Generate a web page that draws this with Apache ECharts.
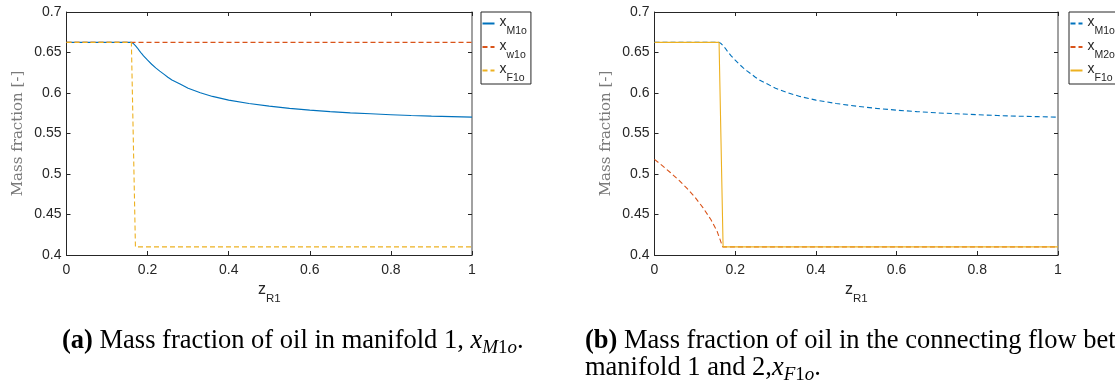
<!DOCTYPE html>
<html>
<head>
<meta charset="utf-8">
<script src="https://cdn.jsdelivr.net/npm/echarts@6/dist/echarts.min.js"></script>
<style>
  html, body { margin: 0; padding: 0; background: #fff; }
  #chart { width: 1115px; height: 388px; }
</style>
</head>
<body>
<div id="chart"></div>
<script>
// Positions along the reactor (z_R1) and mass fraction of oil in manifold 1
const zM1o = [0, 0.05, 0.1, 0.16, 0.165, 0.17, 0.175, 0.18, 0.185, 0.19, 0.2, 0.21, 0.22, 0.23, 0.24,
              0.25, 0.26, 0.28, 0.3, 0.33, 0.36, 0.4, 0.45, 0.5, 0.55, 0.6, 0.65, 0.7, 0.75, 0.8,
              0.85, 0.9, 0.95, 1];
const xM1o = [0.6625, 0.6625, 0.6625, 0.6625, 0.661, 0.6585, 0.6555, 0.652, 0.6488, 0.6458, 0.6405,
              0.6355, 0.631, 0.627, 0.6233, 0.6195, 0.616, 0.611, 0.6058, 0.6003, 0.5958, 0.5912,
              0.587, 0.5838, 0.581, 0.5788, 0.577, 0.5755, 0.5743, 0.5732, 0.5722, 0.5714, 0.5708, 0.5702];

// Water-side outlet of manifold 1
const zW1o = [0, 1];
const xW1o = [0.6625, 0.6625];

// Connecting flow between manifold 1 and 2
const zF1o = [0, 0.16, 0.17, 1];
const xF1o = [0.6625, 0.6625, 0.41, 0.41];

// Manifold 2
const zM2o = [0, 0.02, 0.04, 0.06, 0.08, 0.1, 0.12, 0.14, 0.155, 0.169, 1];
const xM2o = [0.518, 0.51, 0.5015, 0.4925, 0.4825, 0.4715, 0.4585, 0.4435, 0.4295, 0.41, 0.41];

// Axis ticks
const zTicks = [0, 0.2, 0.4, 0.6, 0.8, 1];
const fracTicks = [0.4, 0.45, 0.5, 0.55, 0.6, 0.65, 0.7];

const BLUE = '#0072BD', RED = '#D95319', YELLOW = '#EDB120';
const INK = '#262626';
const SANS = '"Liberation Sans", Arial, sans-serif';
const SERIF = '"Liberation Serif", "Times New Roman", serif';

const pairs = (zs, vs) => zs.map((z, i) => [z, vs[i]]);

const zStep = zTicks[1] - zTicks[0];
const fStep = 0.05;

const GRIDS = [
  { left: 66.5, top: 12, width: 405.5, height: 243 },
  { left: 654.5, top: 12, width: 403.5, height: 243 }
];

// legend label: "x" with a lowered subscript; both tokens hang from the line top
const subRich = {
  m: { fontFamily: SANS, fontSize: 14, color: INK, lineHeight: 20, height: 14, padding: [2, 0, 0, 0], verticalAlign: 'top' },
  s: { fontFamily: SANS, fontSize: 10.5, color: INK, lineHeight: 20, height: 4, padding: [16, 0, 0, 0], verticalAlign: 'top' }
};

function axesFor(g) {
  const x = [
    {
      type: 'value', gridIndex: g, position: 'bottom',
      min: zTicks[0], max: zTicks[zTicks.length - 1], interval: zStep,
      axisLine: { show: true, onZero: false, lineStyle: { color: INK, width: 1 } },
      axisTick: { show: true, inside: true, length: 4, lineStyle: { color: INK } },
      axisLabel: { margin: 8, fontFamily: SANS, fontSize: 14, color: INK },
      splitLine: { show: false },
      name: '{m|z}{s|R1}', nameLocation: 'middle', nameGap: 26,
      nameTextStyle: {
        rich: {
          m: { fontFamily: SANS, fontSize: 16, color: INK, lineHeight: 16, padding: [0, 0, 7, 0], verticalAlign: 'bottom' },
          s: { fontFamily: SANS, fontSize: 11.5, color: INK, lineHeight: 12, verticalAlign: 'bottom' }
        }
      }
    },
    {
      type: 'value', gridIndex: g, position: 'top',
      min: zTicks[0], max: zTicks[zTicks.length - 1], interval: zStep,
      axisLine: { show: true, onZero: false, lineStyle: { color: INK, width: 1 } },
      axisTick: { show: true, inside: true, length: 4, lineStyle: { color: INK } },
      axisLabel: { show: false },
      splitLine: { show: false }
    }
  ];
  const y = [
    {
      type: 'value', gridIndex: g, position: 'left',
      min: fracTicks[0], max: fracTicks[fracTicks.length - 1], interval: fStep,
      axisLine: { show: true, onZero: false, lineStyle: { color: INK, width: 1 } },
      axisTick: { show: true, inside: true, length: 4, lineStyle: { color: INK } },
      axisLabel: { margin: 5, fontFamily: SANS, fontSize: 14, color: INK },
      splitLine: { show: false },
      name: 'Mass fraction [-]', nameLocation: 'middle', nameGap: 41, nameRotate: 90,
      nameTextStyle: { fontFamily: '"DejaVu Serif", serif', fontSize: 15, color: '#7a7a7a' }
    },
    {
      type: 'value', gridIndex: g, position: 'right',
      min: fracTicks[0], max: fracTicks[fracTicks.length - 1], interval: fStep,
      axisLine: { show: true, onZero: false, lineStyle: { color: '#8a8a8a', width: 1.6 } },
      axisTick: { show: true, inside: true, length: 4, lineStyle: { color: INK } },
      axisLabel: { show: false },
      splitLine: { show: false }
    }
  ];
  return { x, y };
}

const a0 = axesFor(0), a1 = axesFor(1);

function line(name, data, color, dashed, g) {
  return {
    name, type: 'line', data,
    xAxisIndex: g * 2, yAxisIndex: g * 2,
    symbol: 'none', showSymbol: false, smooth: false,
    lineStyle: { color, width: 1.1, type: dashed ? [5, 3] : 'solid' },
    itemStyle: { color },
    emphasis: { disabled: true },
    animation: false
  };
}

const legendLabels = {
  aM1o: 'M1o', aW1o: 'w1o', aF1o: 'F1o',
  bM1o: 'M1o', bM2o: 'M2o', bF1o: 'F1o'
};

function legendAt(left, names, padRight) {
  return {
    data: names, orient: 'vertical', left, top: 12,
    padding: [1.5, padRight, 0, 0.5], itemWidth: 12, itemHeight: 10, itemGap: 0,
    borderColor: INK, borderWidth: 1, backgroundColor: '#fff',
    selectedMode: false,
    itemStyle: { opacity: 0 },
    formatter: n => '{m|x}{s|' + legendLabels[n] + '}',
    textStyle: { rich: subRich }
  };
}

const T = 26.5, TS = 19;
const capRich = {
  b: { fontFamily: SERIF, fontSize: T, fontWeight: 'bold', color: '#000', lineHeight: T, padding: [0, 0, 3, 0], verticalAlign: 'bottom' },
  t: { fontFamily: SERIF, fontSize: T, fontWeight: 'normal', color: '#000', lineHeight: T, padding: [0, 0, 3, 0], verticalAlign: 'bottom' },
  i: { fontFamily: SERIF, fontSize: T, fontWeight: 'normal', fontStyle: 'italic', color: '#000', lineHeight: T, padding: [0, 0, 3, 0], verticalAlign: 'bottom' },
  si: { fontFamily: SERIF, fontSize: TS, fontWeight: 'normal', fontStyle: 'italic', color: '#000', lineHeight: TS, verticalAlign: 'bottom' },
  su: { fontFamily: SERIF, fontSize: TS, fontWeight: 'normal', color: '#000', lineHeight: TS, verticalAlign: 'bottom' }
};

function caption(text, left, top) {
  return { text, left, top, padding: 0, textStyle: { fontWeight: 'normal', rich: capRich } };
}

const option = {
  animation: false,
  backgroundColor: '#fff',
  title: [
    caption('{b|(a)}{t| Mass fraction of oil in manifold 1, }{i|x}{si|M}{su|1}{si|o}{t|.}', 62, 331),
    caption('{b|(b)}{t| Mass fraction of oil in the connecting flow between}', 585, 331),
    caption('{t|manifold 1 and 2,}{i|x}{si|F}{su|1}{si|o}{t|.}', 585, 358)
  ],
  grid: GRIDS.map(g => Object.assign({ containLabel: false }, g)),
  xAxis: a0.x.concat(a1.x),
  yAxis: a0.y.concat(a1.y),
  legend: [
    legendAt(481, ['aM1o', 'aW1o', 'aF1o'], 4),
    legendAt(1069, ['bM1o', 'bM2o', 'bF1o'], 12)
  ],
  series: [
    line('aM1o', pairs(zM1o, xM1o), BLUE, false, 0),
    line('aW1o', pairs(zW1o, xW1o), RED, true, 0),
    line('aF1o', pairs(zF1o, xF1o), YELLOW, true, 0),
    line('bM1o', pairs(zM1o, xM1o), BLUE, true, 1),
    line('bM2o', pairs(zM2o, xM2o), RED, true, 1),
    line('bF1o', pairs(zF1o, xF1o), YELLOW, false, 1)
  ]
};

const chart = echarts.init(document.getElementById('chart'), null, { renderer: 'canvas' });
chart.setOption(option);
</script>
</body>
</html>
